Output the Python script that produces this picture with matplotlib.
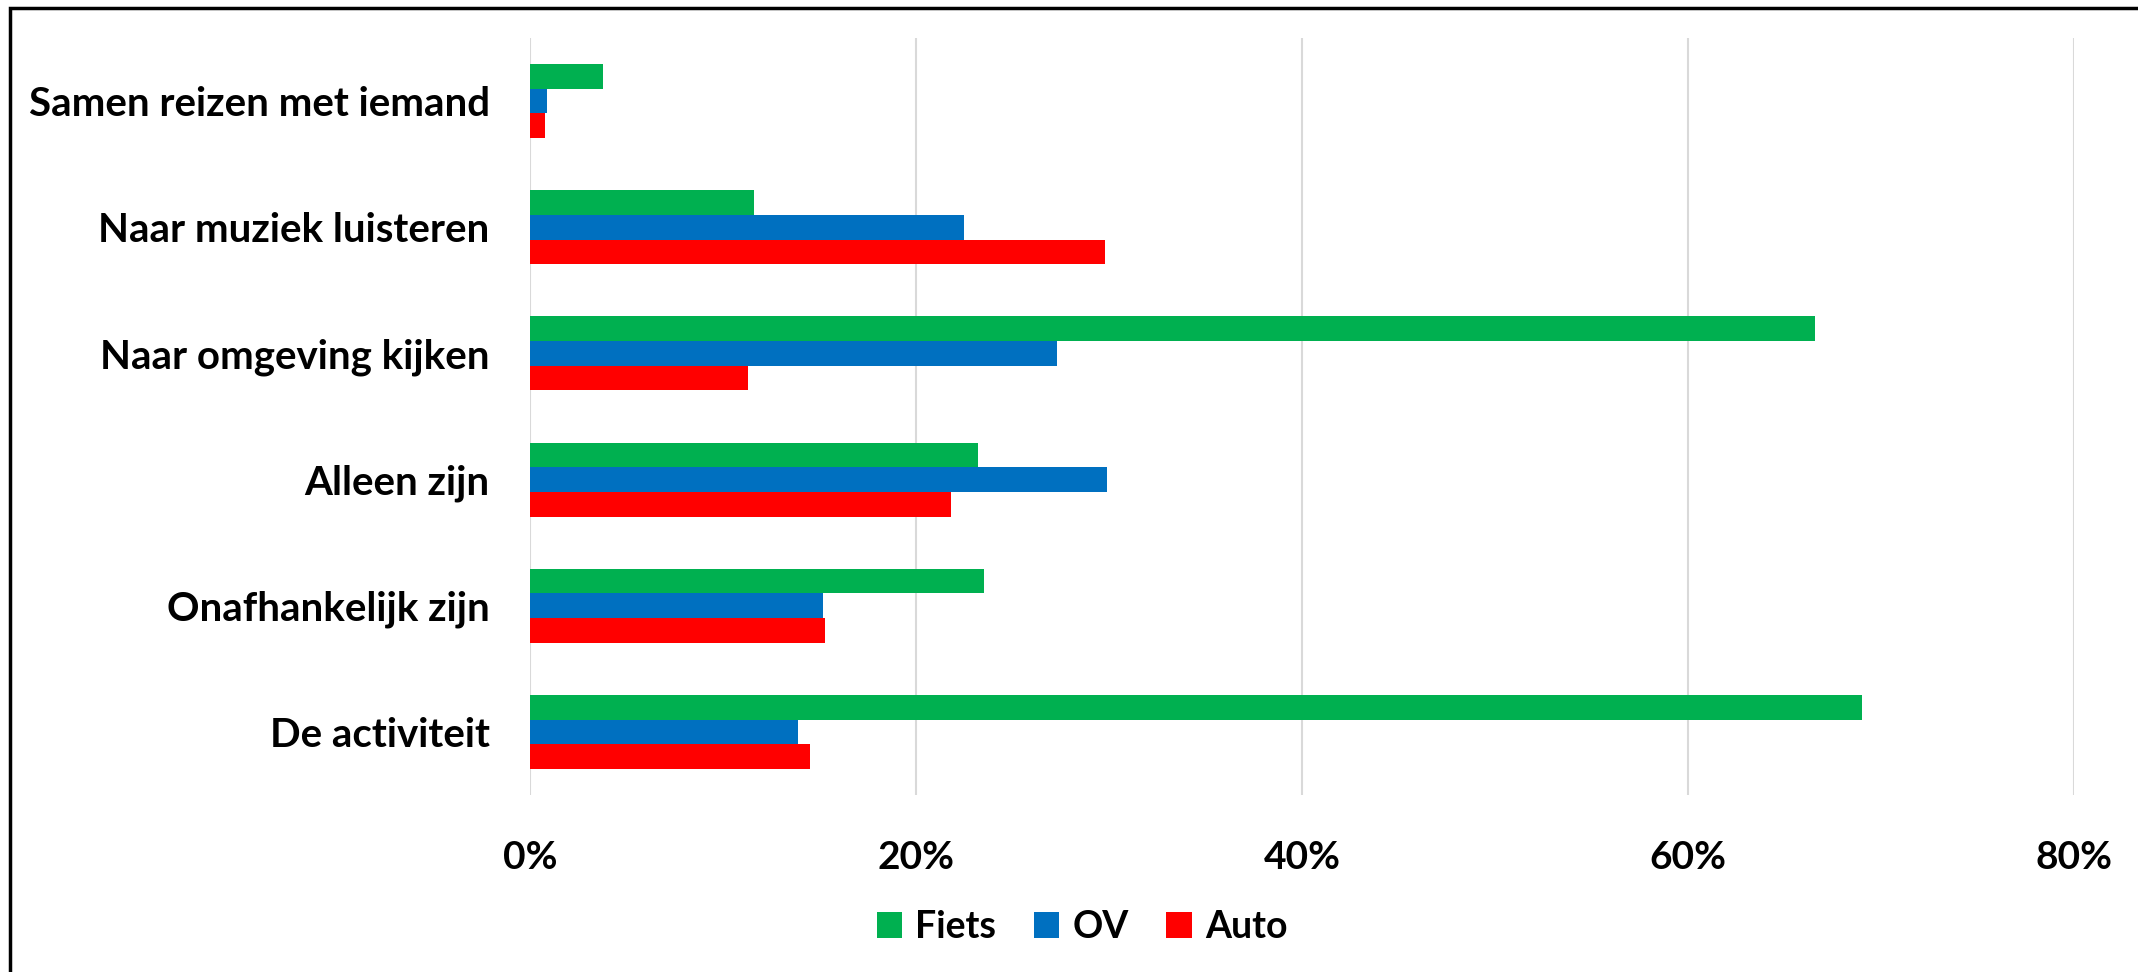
import matplotlib
matplotlib.use("Agg")
import matplotlib.pyplot as plt
from matplotlib.patches import Rectangle
from matplotlib.ticker import PercentFormatter
import numpy as np

# categories from bottom to top
categories = ["De activiteit", "Onafhankelijk zijn", "Alleen zijn",
              "Naar omgeving kijken", "Naar muziek luisteren", "Samen reizen met iemand"]
fiets = [69.0, 23.5, 23.2, 66.6, 11.6, 3.8]
ov = [13.9, 15.2, 29.9, 27.3, 22.5, 0.9]
auto = [14.5, 15.3, 21.8, 11.3, 29.8, 0.8]

GREEN = "#00B050"
BLUE = "#0070C0"
RED = "#FF0000"

plt.rcParams['font.family'] = ['Lato', 'DejaVu Sans']
plt.rcParams['font.weight'] = 'bold'

fig = plt.figure(figsize=(21.38, 9.72), dpi=100)
ax = fig.add_axes([0.2479, 0.182, 0.970 - 0.2479, 0.961 - 0.182])

y = np.arange(len(categories))
h = 0.195
ax.barh(y + h, fiets, height=h, color=GREEN, label="Fiets", zorder=3)
ax.barh(y, ov, height=h, color=BLUE, label="OV", zorder=3)
ax.barh(y - h, auto, height=h, color=RED, label="Auto", zorder=3)

ax.set_xlim(0, 80)
ax.set_ylim(-0.5, len(categories) - 0.5)
ax.set_xticks([0, 20, 40, 60, 80])
ax.xaxis.set_major_formatter(PercentFormatter(decimals=0))
ax.set_yticks(y)
ax.set_yticklabels(categories)
ax.grid(axis='x', color='#D9D9D9', linewidth=1.5, zorder=0)
for s in ax.spines.values():
    s.set_visible(False)
ax.tick_params(axis='y', length=0, labelsize=29, pad=29)
ax.tick_params(axis='x', length=0, labelsize=28, pad=32)
for lab in ax.get_xticklabels() + ax.get_yticklabels():
    lab.set_fontweight('bold')

ax.legend(loc='center', bbox_to_anchor=(1082 / 2138, 1 - 927 / 972),
          bbox_transform=fig.transFigure, ncol=3, frameon=False,
          prop={'size': 27, 'weight': 'bold'}, handlelength=0.68, handleheight=0.68,
          handletextpad=0.35, columnspacing=1.0)

# outer border of the chart area
fig.patches.append(Rectangle((10 / 2138, -0.05), 1.1, 1 - 8 / 972 + 0.05,
                             transform=fig.transFigure, fill=False,
                             edgecolor='black', linewidth=2.5))

fig.savefig("out.png", dpi=100)
